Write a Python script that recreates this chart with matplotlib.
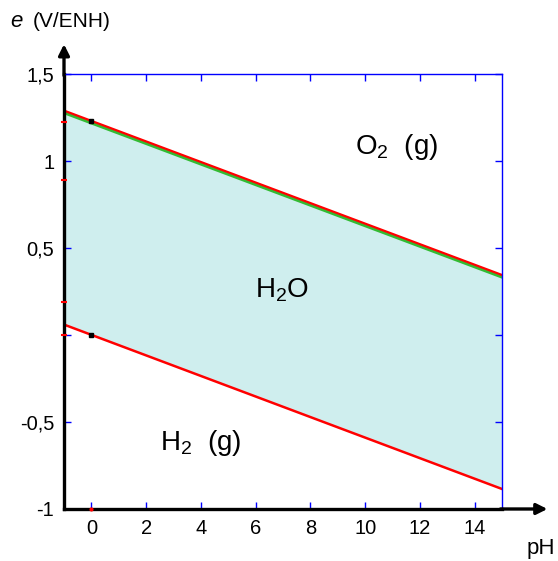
import matplotlib.pyplot as plt

plt.rcParams['font.family'] = ['Liberation Sans', 'DejaVu Sans']
plt.rcParams['mathtext.fontset'] = 'custom'
plt.rcParams['mathtext.rm'] = 'Liberation Sans'
plt.rcParams['mathtext.it'] = 'Liberation Sans:italic'

# water stability lines, read at the ends of the pH range
ph = [-1, 15]
e_o2 = [1.29, 0.345]
e_h2 = [0.06, -0.885]

# small marks left on the axes in the original drawing
red_marks_e = [1.225, 0.89, 0.19, 0.0]
black_dots_ph = [0, 0]
black_dots_e = [1.23, 0.0]

xticks = [0, 2, 4, 6, 8, 10, 12, 14]
yticks = [-1, -0.5, 0, 0.5, 1, 1.5]
ylabels = ['-1', '-0,5', '', '0,5', '1', '1,5']

fig = plt.figure(figsize=(5.58, 5.61), dpi=100)
ax = fig.add_axes([0.1147, 0.0927, 0.785, 0.7753])

ax.fill_between(ph, e_h2, e_o2, color='#cfeeee', lw=0)
ax.plot(ph, [v - 0.012 for v in e_o2], color='#33bb33', lw=2.2)
ax.plot(ph, e_o2, color='red', lw=1.6)
ax.plot(ph, e_h2, color='red', lw=1.8)
ax.plot([-1] * len(red_marks_e), red_marks_e, ls='none', marker='_',
        color='red', ms=5, mew=1.5, clip_on=False, zorder=5)
ax.plot(black_dots_ph, black_dots_e, ls='none', marker='s', color='black',
        ms=2.5, zorder=6)
ax.plot([0], [-1], ls='none', marker='o', color='red', ms=2, clip_on=False,
        zorder=6)

ax.set_xlim(-1, 15)
ax.set_ylim(-1, 1.5)
ax.set_xticks(xticks)
ax.set_xticklabels([str(t) for t in xticks])
ax.set_yticks(yticks)
ax.set_yticklabels(ylabels)
ax.tick_params(direction='in', color='blue', top=True, right=True,
               length=5, width=1, labelsize=14.5, pad=7)

for s in ['top', 'right']:
    ax.spines[s].set_color('blue')
    ax.spines[s].set_linewidth(1)
for s in ['left', 'bottom']:
    ax.spines[s].set_color('black')
    ax.spines[s].set_linewidth(2.4)

# axis arrows
ax.annotate('', xy=(0, 1.075), xytext=(0, 0.99), xycoords='axes fraction',
            arrowprops=dict(arrowstyle='-|>', color='black', lw=2.4,
                            mutation_scale=16), annotation_clip=False)
ax.annotate('', xy=(1.11, 0), xytext=(0.99, 0), xycoords='axes fraction',
            arrowprops=dict(arrowstyle='-|>', color='black', lw=2.4,
                            mutation_scale=16), annotation_clip=False)

ax.text(11.15, 1.08, 'O$_2$  (g)', fontsize=20, ha='center', va='center')
ax.text(6.95, 0.26, 'H$_2$O', fontsize=20, ha='center', va='center')
ax.text(4.0, -0.62, 'H$_2$  (g)', fontsize=20, ha='center', va='center')

fig.text(0.018, 0.962, '$e$', fontsize=16, ha='left', va='center')
fig.text(0.058, 0.962, '(V/ENH)', fontsize=15, ha='left', va='center')
fig.text(0.943, 0.022, 'pH', fontsize=16, ha='left', va='center')

fig.savefig('out.png', dpi=100)
